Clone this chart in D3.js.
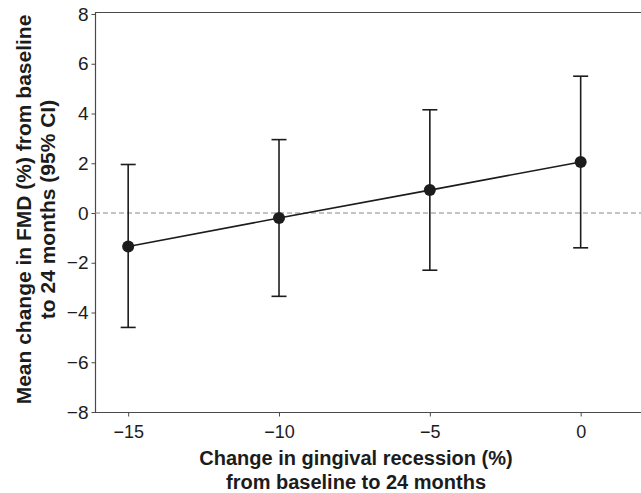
<!DOCTYPE html>
<html>
<head>
<meta charset="utf-8">
<script src="https://cdn.jsdelivr.net/npm/d3@7"></script>
<style>
  body { margin: 0; background: #fff; }
  svg { display: block; font-family: "Liberation Sans", Arial, Helvetica, sans-serif; }
</style>
</head>
<body>
<svg id="chart" width="641" height="493"></svg>
<script>
const categories = [-15, -10, -5, 0]
const means = [-1.35, -0.2, 0.92, 2.05]
const lowerCI = [-4.6, -3.35, -2.3, -1.4]
const upperCI = [1.95, 2.95, 4.15, 5.5]
const yTicks = [-8, -6, -4, -2, 0, 2, 4, 6, 8]
const xTicks = [-15, -10, -5, 0]

const plotLeft = 95, plotTop = 14, plotBottom = 412, plotRight = 641

const x = d3.scaleLinear().domain([-16.1, 2]).range([plotLeft, plotRight])
const y = d3.scaleLinear().domain([-8, 8]).range([plotBottom, plotTop])

const svg = d3.select('#chart')
const ink = '#1c1c1c'
const axisColor = '#4a4a4a'

const points = categories.map((c, i) => ({ x: c, m: means[i], lo: lowerCI[i], hi: upperCI[i] }))

const minusFmt = d => d3.format('d')(d).replace('-', '\u2212')

// top frame line
svg.append('line')
    .attr('x1', plotLeft).attr('x2', plotRight)
    .attr('y1', 12.5).attr('y2', 12.5)
    .attr('stroke', axisColor).attr('stroke-width', 1.2)

// y axis
const yAxis = svg.append('g')
    .attr('transform', `translate(${plotLeft + 0.5},0)`)
    .call(d3.axisLeft(y).tickValues(yTicks).tickSize(4).tickPadding(3).tickFormat(minusFmt))
yAxis.select('.domain').attr('stroke', axisColor).attr('stroke-width', 1.2)
    .attr('d', `M0,12.5V${plotBottom + 0.5}`)
yAxis.selectAll('.tick line').attr('stroke', axisColor)
yAxis.selectAll('.tick text')
    .attr('fill', ink).style('font-size', '19px')

// x axis
const xAxis = svg.append('g')
    .attr('transform', `translate(0,${plotBottom + 0.5})`)
    .call(d3.axisBottom(x).tickValues(xTicks).tickSize(4).tickPadding(9).tickFormat(minusFmt))
xAxis.select('.domain').attr('stroke', axisColor).attr('stroke-width', 1.2)
    .attr('d', `M${plotLeft},0H${plotRight}`)
xAxis.selectAll('.tick line').attr('stroke', axisColor)
xAxis.selectAll('.tick text')
    .attr('fill', ink).style('font-size', '18px')

// reference line at zero
svg.append('line')
    .attr('x1', plotLeft).attr('x2', plotRight)
    .attr('y1', y(0)).attr('y2', y(0))
    .attr('stroke', '#888').attr('stroke-width', 1.2)
    .attr('stroke-dasharray', '5,3')

// error bars
const capW = 7.5
const bars = svg.append('g').selectAll('g')
    .data(points)
    .join('g')
    .attr('stroke', ink)
    .attr('stroke-width', 1.6)
bars.append('line')
    .attr('x1', d => x(d.x)).attr('x2', d => x(d.x))
    .attr('y1', d => y(d.lo)).attr('y2', d => y(d.hi))
bars.append('line')
    .attr('x1', d => x(d.x) - capW).attr('x2', d => x(d.x) + capW)
    .attr('y1', d => y(d.hi)).attr('y2', d => y(d.hi))
bars.append('line')
    .attr('x1', d => x(d.x) - capW).attr('x2', d => x(d.x) + capW)
    .attr('y1', d => y(d.lo)).attr('y2', d => y(d.lo))

// mean line
svg.append('path')
    .datum(points)
    .attr('fill', 'none')
    .attr('stroke', ink)
    .attr('stroke-width', 1.6)
    .attr('d', d3.line().x(d => x(d.x)).y(d => y(d.m)))

svg.append('g').selectAll('circle')
    .data(points)
    .join('circle')
    .attr('cx', d => x(d.x))
    .attr('cy', d => y(d.m))
    .attr('r', 6)
    .attr('fill', ink)

// axis titles
const yTitle = svg.append('text')
    .attr('transform', `translate(0,209.5) rotate(-90)`)
    .attr('text-anchor', 'middle')
    .attr('fill', ink)
    .style('font-size', '21px')
    .style('font-weight', 'bold')
yTitle.append('tspan').attr('x', 0).attr('y', 31).text('Mean change in FMD (%) from baseline')
yTitle.append('tspan').attr('x', 0).attr('y', 55).text('to 24 months (95% CI)')

const xTitle = svg.append('text')
    .attr('text-anchor', 'middle')
    .attr('fill', ink)
    .style('font-size', '20px')
    .style('font-weight', 'bold')
xTitle.append('tspan').attr('x', 356).attr('y', 465).text('Change in gingival recession (%)')
xTitle.append('tspan').attr('x', 356).attr('y', 489).text('from baseline to 24 months')
</script>
</body>
</html>
